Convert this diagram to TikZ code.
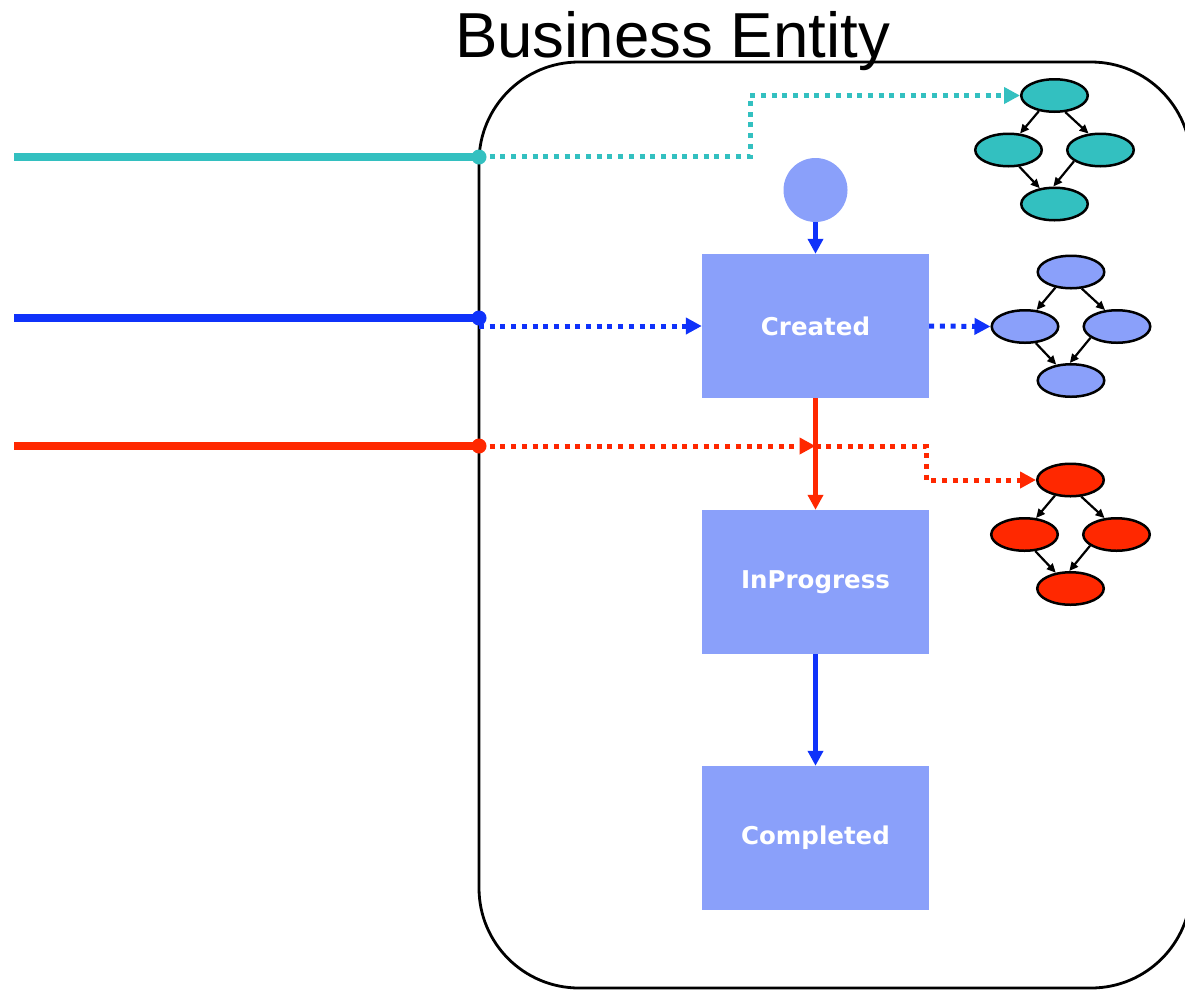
\documentclass[tikz,border=0pt]{standalone}
\usepackage{fontspec}
\setmainfont{Liberation Sans}
\newfontfamily\statefont{DejaVu Sans}
\usetikzlibrary{arrows.meta,shapes.geometric,calc}

\definecolor{lanecyan}{RGB}{51,192,192}
\definecolor{laneblue}{RGB}{15,50,250}
\definecolor{lanered}{RGB}{255,40,0}
\definecolor{statefill}{RGB}{138,160,250}

\tikzset{
  entitybox/.style={draw=black, line width=2.8pt, rounded corners=100pt,
    minimum width=712pt, minimum height=926pt, inner sep=0pt},
  statebox/.style={rectangle, fill=statefill, minimum width=227pt,
    minimum height=144pt, inner sep=0pt, text=white,
    font=\statefont\bfseries\fontsize{24.5}{28}\selectfont},
  initial/.style={circle, fill=statefill, minimum size=64pt, inner sep=0pt},
  lane/.style={line width=8pt},
  portdot/.style={circle, inner sep=0pt, minimum size=15pt},
  dotted link/.style={line width=5pt, dash pattern=on 5pt off 5.7pt,
    -{Triangle[length=16pt,width=16pt]}},
  transition/.style={line width=4.5pt, -{Triangle[length=15pt,width=15pt]}},
  task/.style={ellipse, draw=black, line width=2.5pt, minimum width=66.5pt,
    minimum height=32.5pt, inner sep=0pt},
  taskflow/.style={line width=2.2pt, -{Triangle[length=9pt,width=8pt]}},
}

% a small four-task flow graph: #1 name prefix, #2/#3 top task centre, #4 fill
\newcommand{\taskgraph}[4]{%
  \node[task, fill=#4] (#1t) at (#2,#3) {};
  \node[task, fill=#4] (#1l) at (#2-46,#3+54.5) {};
  \node[task, fill=#4] (#1r) at (#2+46,#3+54.5) {};
  \node[task, fill=#4] (#1b) at (#2,#3+108.5) {};
  \draw[taskflow] (#1t.-135) -- (#1l.55);
  \draw[taskflow] (#1t.-57) -- (#1r.126);
  \draw[taskflow] (#1l.-57) -- (#1b.133);
  \draw[taskflow] (#1r.-157) -- (#1b.94);
}

\begin{document}
\begin{tikzpicture}[x=1pt, y=-1pt]
\useasboundingbox (0,0) rectangle (1185,991);
\clip (0,0) rectangle (1185,991);

% the entity container and its title
\node[entitybox] (entity) at (835,525) {};
\node[anchor=base, font=\fontsize{63.6}{70}\selectfont] (title) at (672.5,57) {Business Entity};

% lifecycle states
\node[initial] (start) at (815.5,190) {};
\node[statebox] (created) at (815.5,326) {Created};
\node[statebox] (inprogress) at (815.5,582) {InProgress};
\node[statebox] (completed) at (815.5,838) {Completed};

\draw[transition, laneblue] (start) -- (created);
\draw[transition, lanered] (created) -- (inprogress);
\draw[transition, laneblue] (inprogress) -- (completed);

% task graphs
\taskgraph{c}{1054.5}{95.5}{lanecyan}
\taskgraph{b}{1071}{272}{statefill}
\taskgraph{r}{1070.5}{480}{lanered}

% incoming lanes
\coordinate (cyanin) at (14,157);
\coordinate (bluein) at (14,318);
\coordinate (redin) at (14,446);
\node[portdot, fill=lanecyan] (cyanport) at (479,157) {};
\node[portdot, fill=laneblue] (blueport) at (479,318) {};
\node[portdot, fill=lanered] (redport) at (479,446) {};
\draw[lane, lanecyan] (cyanin) -- (cyanport.center);
\draw[lane, laneblue] (bluein) -- (blueport.center);
\draw[lane, lanered] (redin) -- (redport.center);

% dotted connections
\coordinate (cyanbend) at (750,156);
\draw[dotted link, lanecyan] (cyanport.center |- cyanbend) -- (cyanbend) |- (ct.west);

\draw[dotted link, laneblue] (blueport.center |- created.west) -- (created.west);
\draw[dotted link, laneblue] (created.east) -- (bl.west);

\coordinate (redhit) at (created.south |- redport.center);
\coordinate (redbend) at (926,446);
\draw[dotted link, lanered] (redport.center) -- (redhit);
\draw[dotted link, lanered] (redhit) -- (redbend) |- (rt.west);
\end{tikzpicture}
\end{document}
